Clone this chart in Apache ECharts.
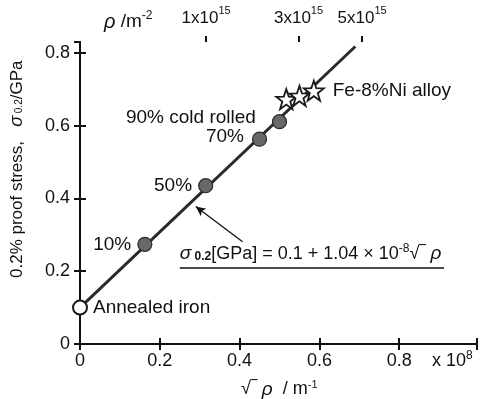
<!DOCTYPE html>
<html><head><meta charset="utf-8">
<script src="https://cdn.jsdelivr.net/npm/echarts@6/dist/echarts.min.js"></script>
<style>html,body{margin:0;padding:0;background:#fff}#c{width:480px;height:399px}</style>
</head><body><div id="c"></div>
<script>
// ---- data (x: sqrt(rho) in 1e8 m^-1, y: 0.2% proof stress in GPa) ----
const xTicks = [0, 0.2, 0.4, 0.6, 0.8];
const yTicks = [0, 0.2, 0.4, 0.6, 0.8];
const rhoTickValues = [1e15, 3e15, 5e15];
const rhoTickLabels = ['1x10|15', '3x10|15', '5x10|15'];
const annealedX = [0];
const annealedY = [0.10];
const rolledX = [0.1625, 0.315, 0.45, 0.50];
const rolledY = [0.274, 0.435, 0.563, 0.611];
const rolledLabels = ['10%', '50%', '70%', '90% cold rolled'];
const alloyX = [0.517, 0.55, 0.586];
const alloyY = [0.673, 0.682, 0.696];
const fitX = [0, 0.69];
const fitY = [0.10, 0.8176];
const arrowFrom = [0.4075, 0.281];
const arrowTo = [0.29, 0.378];
const eqAnchor = [0.25, 0.247];
const eqUnderlineX = [0.25, 0.9125];
const eqUnderlineY = 0.209;

const FONT = 'Liberation Sans, Arial, Helvetica, sans-serif';
const INK = '#111';
const rhoPos = rhoTickValues.map(v => Math.sqrt(v) / 1e8);

const chart = echarts.init(document.getElementById('c'), null, {renderer: 'canvas'});
const zip = (a, b) => a.map((v, i) => [v, b[i]]);

const axisBase = {
  type: 'value', min: 0, max: 0.995, interval: 0.2,
  axisLine: {show: true, lineStyle: {color: INK, width: 2}},
  splitLine: {show: false}
};
const lbl = {color: INK, fontSize: 19, fontFamily: FONT, opacity: 1, textBorderWidth: 0};

const option = {
  backgroundColor: '#fff',
  animation: false,
  grid: {left: 80, right: 2, top: 42, bottom: 55},
  xAxis: [
    Object.assign({}, axisBase, {
      position: 'bottom',
      axisTick: {inside: true, length: 6, lineStyle: {color: INK, width: 2}},
      axisLabel: {color: INK, fontSize: 18, fontFamily: FONT, margin: 8,
        formatter: v => xTicks.includes(Math.round(v * 10) / 10) ? String(Math.round(v * 10) / 10) : ''}
    }),
    Object.assign({}, axisBase, {
      position: 'top',
      axisTick: {inside: true, length: 6, lineStyle: {color: INK, width: 2}},
      axisLabel: {show: false}
    }),
    Object.assign({}, axisBase, {
      position: 'top',
      axisLine: {show: false},
      axisTick: {show: true, inside: false, length: 6, customValues: rhoPos, lineStyle: {color: INK, width: 2}},
      axisLabel: {show: true, customValues: rhoPos, margin: 15,
        formatter: v => {
          let idx = 0, best = 1e9;
          rhoPos.forEach((p, i) => { if (Math.abs(p - v) < best) { best = Math.abs(p - v); idx = i; } });
          const parts = rhoTickLabels[idx].split('|');
          return '{b|' + parts[0] + '}{s|' + parts[1] + '}';
        },
        rich: {
          b: {fontSize: 17, fontFamily: FONT, color: INK, verticalAlign: 'bottom', lineHeight: 22},
          s: {fontSize: 11, fontFamily: FONT, color: INK, verticalAlign: 'top', lineHeight: 22, padding: [0, 0, 10, 0]}
        }
      }
    })
  ],
  yAxis: [
    {
      type: 'value', min: 0, max: 0.83, interval: 0.2, position: 'left',
      axisLine: {show: true, lineStyle: {color: INK, width: 2}},
      axisTick: {inside: true, length: 6, lineStyle: {color: INK, width: 2}},
      splitLine: {show: false},
      axisLabel: {color: INK, fontSize: 18, fontFamily: FONT, margin: 10,
        formatter: v => String(Math.round(v * 10) / 10)}
    },
    {
      type: 'value', min: 0, max: 0.83, interval: 0.2, position: 'right',
      axisLine: {show: true, lineStyle: {color: INK, width: 2}},
      axisTick: {inside: true, length: 6, lineStyle: {color: INK, width: 2}},
      splitLine: {show: false},
      axisLabel: {show: false}
    }
  ],
  series: [
    {
      type: 'line', data: zip(fitX, fitY), symbol: 'none',
      lineStyle: {color: '#2a2a2a', width: 3}, z: 2,
      markLine: {
        silent: true, symbol: ['none', 'arrow'], symbolSize: [7, 10],
        label: {show: false},
        lineStyle: {color: INK, width: 1.3, type: 'solid'},
        data: [[{coord: arrowFrom}, {coord: arrowTo}]]
      }
    },
    {
      type: 'line', data: [[eqUnderlineX[0], eqUnderlineY], [eqUnderlineX[1], eqUnderlineY]],
      symbol: 'none', lineStyle: {color: INK, width: 1.5}, z: 2, silent: true
    },
    {
      type: 'scatter', data: zip(rolledX, rolledY), symbol: 'circle', symbolSize: 14,
      itemStyle: {color: '#6b6767', borderColor: '#2a2a2a', borderWidth: 1.2, opacity: 1}, z: 4,
      label: Object.assign({show: true, position: 'left', distance: 6,
        formatter: p => rolledLabels[p.dataIndex]}, lbl),
      labelLayout: p => {
        if (p.dataIndex === 2) return {dy: -2, dx: -2};
        if (p.dataIndex === 3) return {dy: -4, dx: -10};
        return {};
      }
    },
    {
      type: 'scatter', data: zip(annealedX, annealedY), symbol: 'circle', symbolSize: 14,
      itemStyle: {color: '#fff', borderColor: '#1a1a1a', borderWidth: 2, opacity: 1}, z: 5,
      label: Object.assign({show: true, position: 'right', distance: 5, formatter: 'Annealed iron'}, lbl)
    },
    {
      type: 'scatter', data: zip(alloyX, alloyY), symbol: 'path://M0,-10 L2.35,-3.24 L9.51,-3.09 L3.8,1.24 L5.88,8.09 L0,4 L-5.88,8.09 L-3.8,1.24 L-9.51,-3.09 L-2.35,-3.24 Z',
      symbolSize: 20, itemStyle: {color: '#fff', borderColor: '#1a1a1a', borderWidth: 1.8, opacity: 1}, z: 6,
      label: Object.assign({show: true, position: 'right', distance: 8,
        formatter: p => p.dataIndex === alloyX.length - 1 ? 'Fe-8%Ni alloy' : ''}, lbl)
    },
    {
      type: 'scatter', data: [eqAnchor], symbolSize: 0, z: 3, silent: true,
      itemStyle: {opacity: 1},
      label: {
        show: true, position: 'right', distance: 0,
        formatter: '{g|σ}{sub| 0.2}{n|[GPa] = 0.1 + 1.04 × 10}{sup|-8}{n|√‾ }{g|ρ}',
        rich: {
          n: {fontSize: 18, fontFamily: FONT, color: INK},
          g: {fontSize: 19, fontFamily: FONT, fontStyle: 'italic', color: INK},
          sub: {fontSize: 12, fontFamily: FONT, color: INK, fontWeight: 'bold', padding: [5, 0, 0, 0]},
          sup: {fontSize: 12, fontFamily: FONT, color: INK, padding: [0, 0, 10, 0]}
        }
      }
    }
  ],
  graphic: [
    {type: 'text', x: 104, y: 10, style: {
      text: '{g|ρ}{n| /m}{s|-2}',
      rich: {
        g: {fontSize: 20, fontFamily: FONT, fontStyle: 'italic', fill: INK},
        n: {fontSize: 19, fontFamily: FONT, fill: INK},
        s: {fontSize: 12, fontFamily: FONT, fill: INK, padding: [0, 0, 12, 0]}
      }}},
    {type: 'text', x: 432, y: 350, style: {
      text: '{n|x 10}{s|8}',
      rich: {
        n: {fontSize: 18, fontFamily: FONT, fill: INK},
        s: {fontSize: 12, fontFamily: FONT, fill: INK, padding: [0, 0, 10, 0]}
      }}},
    {type: 'text', x: 241, y: 379, style: {
      text: '{n|√‾ }{g|ρ}{n|  / m}{s|-1}',
      rich: {
        g: {fontSize: 19, fontFamily: FONT, fontStyle: 'italic', fill: INK},
        n: {fontSize: 18, fontFamily: FONT, fill: INK},
        s: {fontSize: 11, fontFamily: FONT, fill: INK, padding: [0, 0, 10, 0]}
      }}},
    {type: 'text', x: 17, y: 278, rotation: Math.PI / 2, style: {
      text: '{n|0.2% proof stress,   }{g|σ}{sub| 0.2}{n|/GPa}',
      align: 'left', verticalAlign: 'middle',
      rich: {
        n: {fontSize: 17, fontFamily: FONT, fill: INK},
        g: {fontSize: 18, fontFamily: FONT, fontStyle: 'italic', fill: INK},
        sub: {fontSize: 10, fontFamily: FONT, fill: INK, padding: [4, 0, 0, 0]}
      }}}
  ]
};
chart.setOption(option);
</script>
</body></html>
